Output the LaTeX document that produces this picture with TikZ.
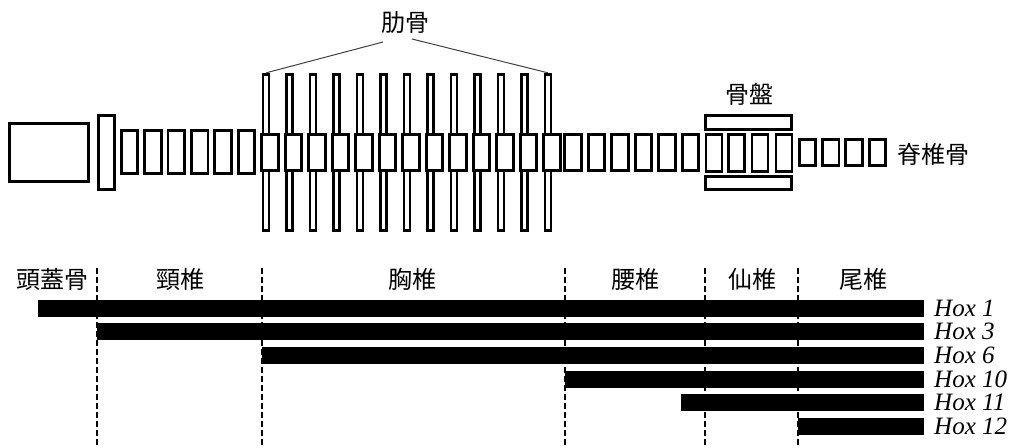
\documentclass[tikz,border=0pt]{standalone}
\usepackage{fontspec}
\newfontfamily\jp{Noto Sans CJK JP}
\newfontfamily\hoxfont{Liberation Serif}
\usetikzlibrary{positioning}
\tikzset{
  bone/.style={draw, line width=2.8pt, fill=white, inner sep=0pt, minimum width=#1},
  bone/.default=16.5pt,
  ribline/.style={line width=1pt, black!75},
  region/.style={line width=2.2pt, dash pattern=on 6pt off 3pt},
  jlabel/.style={font=\jp\fontsize{24}{24}\selectfont, inner sep=0pt},
  hoxlabel/.style={font=\hoxfont\fontsize{25}{25}\selectfont\itshape, anchor=west, inner sep=0pt},
}
\begin{document}
\begin{tikzpicture}[x=1pt,y=-1pt]
\useasboundingbox (0,0) rectangle (1024,447);

% skull and cervical
\node[bone=79pt, minimum height=58.5pt] (skull) at (49,152.5) {};
\node[bone, minimum height=74.5pt] (atlas) at (106.5,152.5) {};
\foreach \i in {0,...,5}
  \node[bone, minimum height=43.5pt] (c\i) at (129.5+23.4*\i,152) {};

% thoracic with ribs
\foreach \i in {1,...,13}{
  \node[bone=6pt, minimum height=156.5pt] (r\i) at (266+23.5*\i-23.5,152.5) {};
  \node[bone, minimum height=36.5pt] (t\i) at (270+23.5*\i-23.5,152.5) {};
}

% lumbar
\foreach \i in {0,...,5}
  \node[bone, minimum height=36.5pt] (l\i) at (573+23.5*\i,152.5) {};

% pelvis and sacral
\node[bone=86.5pt, minimum height=14.5pt] (ptop) at (748.5,122.5) {};
\node[bone=86.5pt, minimum height=13.5pt] (pbot) at (748.5,183) {};
\foreach \x [count=\i] in {714,736.5,760,784}
  \node[bone=16pt, minimum height=37.5pt] (s\i) at (\x,153) {};

% caudal
\foreach \i in {0,...,3}
  \node[bone, minimum height=26.5pt] (k\i) at (807.5+23.3*\i,152.5) {};

\node[jlabel] (ribl) at (405,22) {肋骨};
\node[jlabel] (pelvl) at (749,94) {骨盤};
\node[jlabel, anchor=west] (spinel) at (897,154) {脊椎骨};

\coordinate (ribla) at (383,42);
\coordinate (riblb) at (412,39);
\draw[ribline] (ribla) -- (r1.north);
\draw[ribline] (riblb) -- (r13.north);

% regions
\foreach \x in {97,262,565,705,798}
  \draw[region] (\x,268) -- (\x,447);

\node[jlabel] (skl) at (52.5,279) {頭蓋骨};
\node[jlabel] (cer) at (180,279) {頸椎};
\node[jlabel] (tho) at (412,279) {胸椎};
\node[jlabel] (lum) at (635,279) {腰椎};
\node[jlabel] (sac) at (752,279) {仙椎};
\node[jlabel] (cau) at (863,279) {尾椎};

% Hox domains
\foreach \s/\y/\n in {38/308/1,97/331.5/3,262/355/6,565/379/10,681/402.5/11,798/426/12}{
  \fill (\s,\y-8.5) rectangle (924,\y+8.5);
  \node[hoxlabel] (hox\n) at (934,\y) {Hox \n};
}
\end{tikzpicture}
\end{document}
